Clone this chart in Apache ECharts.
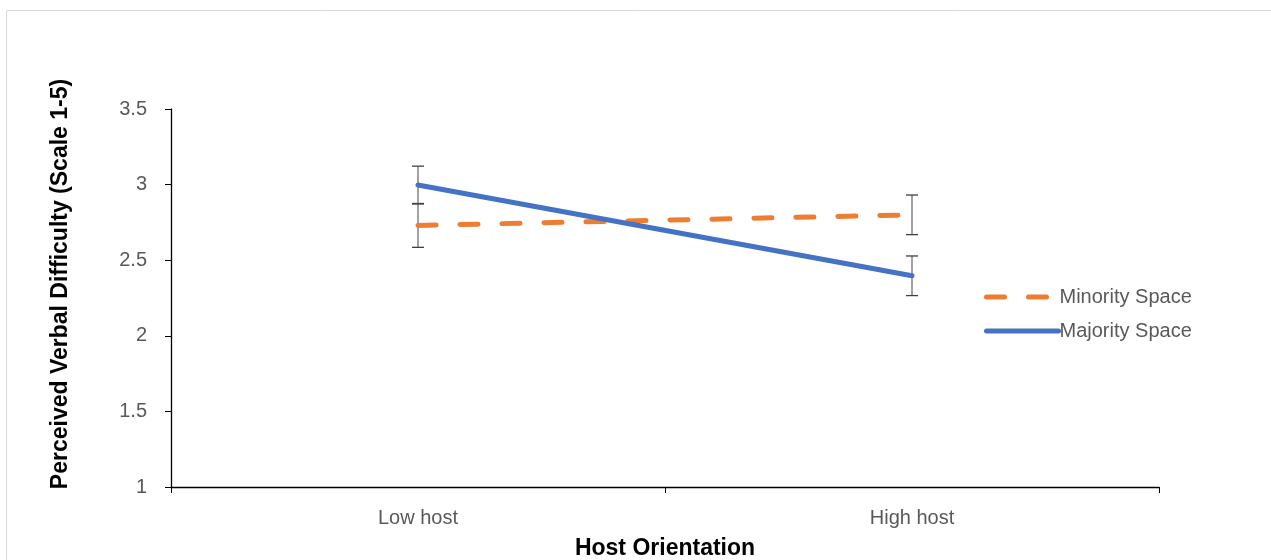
<!DOCTYPE html>
<html>
<head>
<meta charset="utf-8">
<script src="https://cdn.jsdelivr.net/npm/echarts@6/dist/echarts.min.js"></script>
<style>
html,body{margin:0;padding:0;background:#fff;}
#chart{width:1271px;height:560px;}
</style>
</head>
<body>
<div id="chart"></div>
<script>
var categories = ['Low host', 'High host'];
var minoritySpace = [2.73, 2.80];
var majoritySpace = [2.997, 2.397];
var minorityErr = [0.145, 0.131];
var majorityErr = [0.125, 0.131];
var yTicks = [1, 1.5, 2, 2.5, 3, 3.5];

var chart = echarts.init(document.getElementById('chart'));

function errData(vals, errs) {
  return vals.map(function (v, i) { return [i, v - errs[i], v + errs[i]]; });
}

function errRender(params, api) {
  var x = api.value(0);
  var lo = api.coord([x, api.value(1)]);
  var hi = api.coord([x, api.value(2)]);
  var w = 6;
  var st = { stroke: '#404040', lineWidth: 1.3 };
  return {
    type: 'group',
    children: [
      { type: 'line', shape: { x1: hi[0], y1: hi[1], x2: lo[0], y2: lo[1] }, style: { stroke: '#707070', lineWidth: 1.3 } },
      { type: 'line', shape: { x1: hi[0] - w, y1: hi[1], x2: hi[0] + w, y2: hi[1] }, style: st },
      { type: 'line', shape: { x1: lo[0] - w, y1: lo[1], x2: lo[0] + w, y2: lo[1] }, style: st }
    ]
  };
}

var font = '"Liberation Sans", Arial, sans-serif';

chart.setOption({
  animation: false,
  textStyle: { fontFamily: font },
  graphic: [{
    type: 'rect', left: 4, top: 8, silent: true, z: -10,
    shape: { width: 1266, height: 560 },
    style: { fill: 'none', stroke: '#d9d9d9', lineWidth: 1 }
  }],
  grid: { left: 171, right: 112, top: 109, bottom: 73, outerBoundsMode: 'none', containLabel: false },
  legend: {
    orient: 'vertical',
    left: 979, top: 282,
    itemWidth: 72, itemHeight: 14, itemGap: 14,
    data: ['Minority Space', 'Majority Space'],
    itemStyle: { opacity: 0 },
    lineStyle: { width: 'inherit', type: 'inherit', cap: 'round' },
    textStyle: { color: '#595959', fontSize: 20, fontFamily: font, padding: [0, 0, 0, -4] }
  },
  xAxis: {
    type: 'category',
    data: categories,
    boundaryGap: true,
    name: 'Host Orientation',
    nameLocation: 'middle',
    nameGap: 50,
    nameTextStyle: { color: '#000', fontSize: 23, fontWeight: 'bold', fontFamily: font },
    axisLine: { lineStyle: { color: '#000', width: 1.3 } },
    axisTick: { show: true, alignWithLabel: false, length: 6, lineStyle: { color: '#000' } },
    axisLabel: { color: '#595959', fontSize: 20, margin: 21, fontFamily: font }
  },
  yAxis: {
    type: 'value',
    min: 1, max: 3.5, interval: 0.5,
    name: 'Perceived Verbal Difficulty (Scale 1-5)',
    nameLocation: 'middle',
    nameGap: 99,
    nameTextStyle: { color: '#000', fontSize: 23, fontWeight: 'bold', fontFamily: font, padding: [0, 0, 0, 28] },
    axisLine: { show: true, lineStyle: { color: '#000', width: 1.3 } },
    axisTick: { show: true, length: 6, lineStyle: { color: '#000' } },
    splitLine: { show: false },
    axisLabel: {
      color: '#595959', fontSize: 20, margin: 24, fontFamily: font,
      formatter: function (v) { return yTicks.indexOf(v) >= 0 ? String(v) : ''; }
    }
  },
  series: [
    {
      name: 'Minority Space', type: 'line', data: minoritySpace,
      symbol: 'none', z: 3,
      lineStyle: { color: '#ED7D31', width: 5, type: [18, 24], cap: 'round' },
      itemStyle: { color: '#ED7D31' }
    },
    {
      name: 'Majority Space', type: 'line', data: majoritySpace,
      symbol: 'none', z: 4,
      lineStyle: { color: '#4472C4', width: 5, cap: 'round' },
      itemStyle: { color: '#4472C4' }
    },
    {
      name: 'errMin', type: 'custom', renderItem: errRender,
      data: errData(minoritySpace, minorityErr), z: 2,
      encode: { x: 0, y: [1, 2] }
    },
    {
      name: 'errMaj', type: 'custom', renderItem: errRender,
      data: errData(majoritySpace, majorityErr), z: 2,
      encode: { x: 0, y: [1, 2] }
    }
  ]
});
</script>
</body>
</html>
